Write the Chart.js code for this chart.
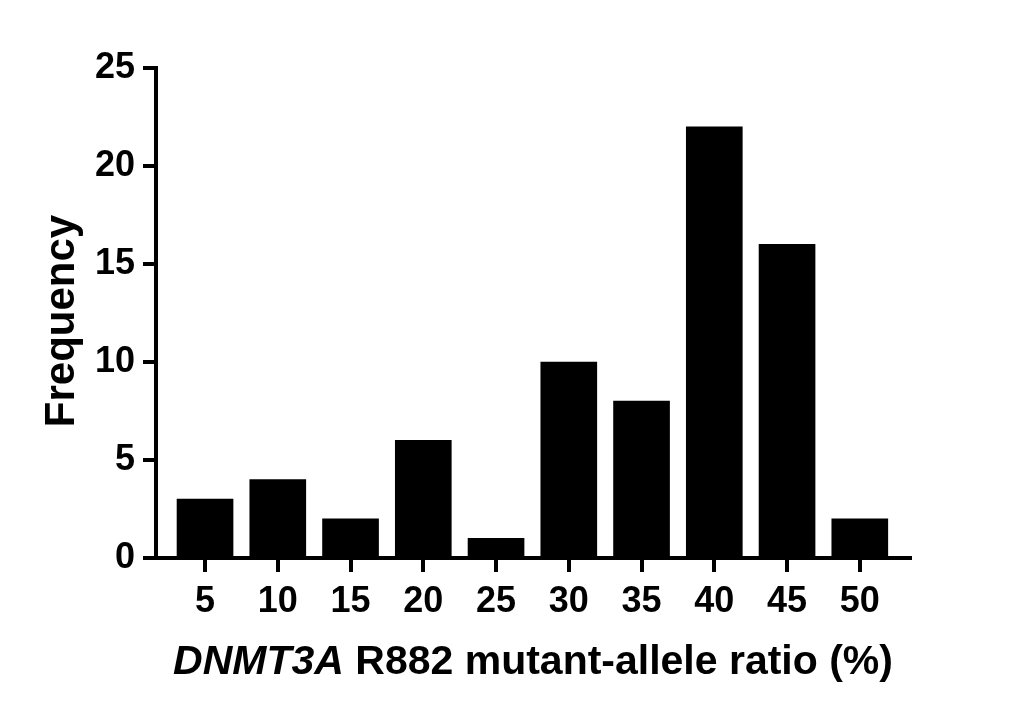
<!DOCTYPE html>
<html>
<head>
<meta charset="utf-8">
<title>DNMT3A R882 mutant-allele ratio</title>
<script src="https://cdn.jsdelivr.net/npm/chart.js@4.4.1/dist/chart.umd.min.js"></script>
<style>
  html, body { margin: 0; padding: 0; background: #ffffff; }
  #wrap { width: 1022px; height: 720px; }
</style>
</head>
<body>
<div id="wrap"><canvas id="chart" width="1022" height="720"></canvas></div>
<script>
// histogram bins (upper edge of mutant-allele ratio, %) and counts
const binLabels = [5, 10, 15, 20, 25, 30, 35, 40, 45, 50];
const frequency = [3, 4, 2, 6, 1, 10, 8, 22, 16, 2];
const yTicks = [0, 5, 10, 15, 20, 25];

const FONT = "'Liberation Sans', Arial, Helvetica, sans-serif";
const INK = '#000000';

// axis titles drawn by hand so the gene name can be italic
const axisTitles = {
  id: 'axisTitles',
  afterDraw(chart) {
    const ctx = chart.ctx;
    const area = chart.chartArea;
    ctx.save();
    ctx.fillStyle = INK;
    ctx.textBaseline = 'alphabetic';

    // x title: italic gene name + plain remainder
    const gene = 'DNMT3A';
    const rest = ' R882 mutant-allele ratio (%)';
    const italic = 'italic bold 41px ' + FONT;
    const plain = 'bold 41px ' + FONT;
    ctx.font = italic;
    const w1 = ctx.measureText(gene).width;
    ctx.font = plain;
    const w2 = ctx.measureText(rest).width;
    let x = (area.left + area.right) / 2 - (w1 + w2) / 2;
    ctx.textAlign = 'left';
    ctx.font = italic;
    ctx.fillText(gene, x, 674);
    ctx.font = plain;
    ctx.fillText(rest, x + w1, 674);

    // y title
    ctx.translate(74, 321);
    ctx.rotate(-Math.PI / 2);
    ctx.textAlign = 'center';
    ctx.font = 'bold 42px ' + FONT;
    ctx.fillText('Frequency', 0, 0);
    ctx.restore();
  }
};

new Chart(document.getElementById('chart'), {
  type: 'bar',
  data: {
    datasets: [{
      label: 'Frequency',
      data: binLabels.map((b, i) => ({ x: b, y: frequency[i] })),
      backgroundColor: INK,
      borderWidth: 0,
      barThickness: 56
    }]
  },
  options: {
    responsive: false,
    animation: false,
    devicePixelRatio: 1,
    layout: { padding: { left: 0, top: 68, right: 112, bottom: 0 } },
    plugins: {
      legend: { display: false },
      tooltip: { enabled: false }
    },
    scales: {
      x: {
        type: 'linear',
        offset: false,
        min: 1.63,
        max: 53.45,
        afterBuildTicks: s => { s.ticks = binLabels.map(v => ({ value: v })); },
        afterFit: s => { s.height = 162; },
        border: { display: true, color: INK, width: 4 },
        grid: { display: true, offset: false, drawOnChartArea: false, drawTicks: true, color: INK, lineWidth: 4, tickLength: 14 },
        ticks: {
          color: INK,
          padding: 8,
          maxRotation: 0,
          autoSkip: false,
          font: { family: FONT, size: 36, weight: 'bold' }
        }
      },
      y: {
        min: 0,
        max: 25,
        afterBuildTicks: s => { s.ticks = yTicks.map(v => ({ value: v })); },
        afterFit: s => { s.width = 156; },
        border: { display: true, color: INK, width: 4 },
        grid: { display: true, drawOnChartArea: false, drawTicks: true, color: INK, lineWidth: 4, tickLength: 13 },
        ticks: {
          color: INK,
          padding: 8,
          font: { family: FONT, size: 36, weight: 'bold' }
        }
      }
    }
  },
  plugins: [axisTitles]
});
</script>
</body>
</html>
